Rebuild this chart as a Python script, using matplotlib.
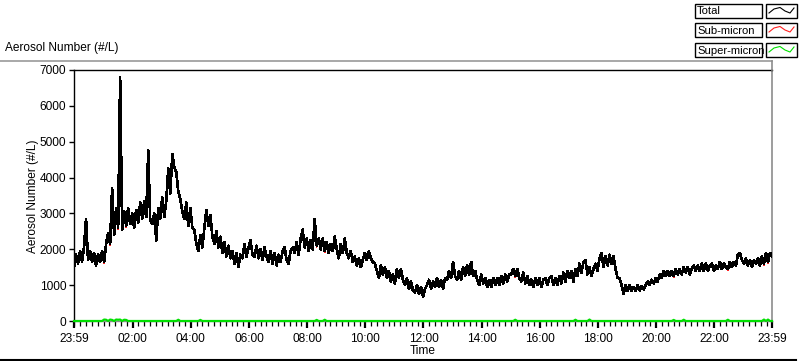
import numpy as np
import matplotlib
matplotlib.use("Agg")
import matplotlib.pyplot as plt
from matplotlib.lines import Line2D
from matplotlib.patches import Rectangle

# ---------------- data ----------------
# Total aerosol number (#/L), sampled evenly from 23:59 to 23:59 (next day)
total = [
    1500, 1850, 1600, 1950, 1650, 2050, 2850, 1700, 1950, 1650,
    1900, 1550, 1850, 1650, 1950, 1650, 2150, 2450, 2150, 3700,
    2400, 3150, 2600, 6800, 2550, 3050, 2650, 3150, 2700, 3000,
    2600, 3100, 2750, 3300, 2850, 3350, 2900, 4750, 2800, 2700,
    3000, 2250, 3150, 2850, 3450, 2900, 3350, 4250, 3550, 4650,
    4300, 4150, 3600, 3400, 3050, 2850, 3300, 2650, 3150, 2600,
    2550, 2150, 1950, 2400, 2050, 2600, 3100, 2650, 2950, 2350,
    2150, 2500, 2050, 2350, 1900, 2200, 1800, 2100, 1750, 1950,
    1600, 1900, 1500, 1850, 1750, 2150, 1800, 2050, 2250, 1850,
    1800, 2100, 1750, 2000, 1700, 2050, 1800, 1650, 1950, 1600,
    1900, 1550, 1850, 1650, 1950, 2050, 1700, 1600, 1950, 2050,
    1900, 2200, 1850, 2300, 2550, 2050, 2300, 1950, 2250, 2000,
    2850, 2100, 2300, 2000, 2300, 1950, 2200, 1900, 2150, 1950,
    2350, 2000, 1750, 2150, 1900, 2300, 1900, 1750, 1950, 1650,
    1800, 1550, 1750, 1500, 1700, 1900, 1700, 1950, 1750, 1650,
    1600, 1400, 1200, 1550, 1300, 1500, 1200, 1400, 1100, 1300,
    1050, 1450, 1200, 1450, 1150, 1000, 1200, 900, 1100, 850,
    800, 1000, 750, 950, 680, 900, 1000, 1150, 900, 1100,
    950, 1200, 950, 1150, 900, 1200, 1150, 1400, 1200, 1650,
    1250, 1150, 1400, 1150, 1500, 1250, 1550, 1300, 1650, 1250,
    1400, 1150, 1000, 1300, 1050, 1200, 950, 1150, 950, 1200,
    1000, 1200, 1000, 1250, 1050, 1300, 1100, 1300, 1300, 1450,
    1250, 1450, 1200, 1100, 1350, 1050, 1250, 1000, 1150, 950,
    1200, 1000, 1200, 950, 1150, 1200, 1000, 1200, 1250, 1000,
    1200, 1000, 1250, 1050, 1350, 1100, 1400, 1200, 1400, 1100,
    1450, 1250, 1600, 1350, 1650, 1700, 1300, 1500, 1250, 1450,
    1600, 1400, 1750, 1900, 1500, 1800, 1550, 1850, 1600, 1800,
    1450, 1200, 1200, 1000, 750, 1000, 850, 1000, 850, 950,
    850, 1000, 850, 980, 880, 1000, 1100, 1000, 1150, 1050,
    1200, 1100, 1300, 1200, 1400, 1250, 1400, 1250, 1400, 1250,
    1450, 1300, 1450, 1300, 1500, 1350, 1500, 1300, 1450, 1550,
    1400, 1550, 1400, 1600, 1400, 1600, 1400, 1550, 1600, 1400,
    1550, 1450, 1650, 1450, 1600, 1500, 1450, 1650, 1500, 1650,
    1550, 1850, 1900, 1700, 1600, 1750, 1550, 1700, 1500, 1700,
    1600, 1750, 1550, 1800, 1600, 1900, 1650, 1900, 1800,
]

# Super-micron: essentially zero with a few small blips (minutes after 23:59)
super_blip_minutes = [62, 66, 74, 80, 87, 91, 95, 103, 107, 215, 260, 499, 516,
                      910, 1036, 1062, 1238, 1258, 1347, 1424, 1430]
super_blip_values = [40, 35, 40, 30, 40, 35, 40, 35, 30, 35, 30, 30, 35,
                     35, 35, 40, 30, 35, 35, 40, 40]

y_ticks = [0, 1000, 2000, 3000, 4000, 5000, 6000, 7000]
x_tick_minutes = [0, 121, 241, 361, 481, 601, 721, 841, 961, 1081, 1201, 1321, 1440]
x_tick_labels = ["23:59", "02:00", "04:00", "06:00", "08:00", "10:00", "12:00",
                 "14:00", "16:00", "18:00", "20:00", "22:00", "23:59"]
series_names = ["Total", "Sub-micron", "Super-micron"]
series_colors = ["#000000", "#ff2020", "#00e000"]

# ---------------- build series ----------------
total = np.array(total, dtype=float)
minutes = np.linspace(0, 1440, len(total))
superm = np.zeros_like(total)
for m, v in zip(super_blip_minutes, super_blip_values):
    superm[int(np.argmin(np.abs(minutes - m)))] = v
subm = total - superm

# ---------------- figure ----------------
W, H = 800, 361
fig = plt.figure(figsize=(W / 100, H / 100), dpi=100)
plt.rcParams['font.family'] = ['Liberation Sans', 'DejaVu Sans']
FS = 8.6
FS_LEG = 8.1


def fx(px):
    return px / W


def fy(py):
    return 1 - py / H


L, R, T, B = 74, 772, 70, 321
ax = fig.add_axes([fx(L), fy(B), fx(R) - fx(L), fy(T) - fy(B)])

ax.plot(minutes, subm, color=series_colors[1], lw=0.4, zorder=2, antialiased=False)
ax.plot(minutes, total, color=series_colors[0], lw=1.2, zorder=3, antialiased=False)
ax.plot(minutes, superm, color=series_colors[2], lw=1.6, zorder=4, clip_on=False)

ax.set_xlim(0, 1440)
ax.set_ylim(0, 7000)
ax.set_yticks(y_ticks)
ax.set_yticklabels([str(v) for v in y_ticks], fontsize=FS)
ax.set_xticks(x_tick_minutes)
ax.set_xticklabels(x_tick_labels, fontsize=FS)
ax.set_xticks(np.arange(1, 1440, 12), minor=True)
ax.tick_params(axis="y", direction="out", length=3.5, width=1, pad=2, colors="black")
ax.tick_params(axis="x", which="major", direction="out", length=5, width=1.6, pad=4)
ax.tick_params(axis="x", which="minor", direction="out", length=3.5, width=0.9)

for s in ["left", "top"]:
    ax.spines[s].set_color("black")
    ax.spines[s].set_linewidth(1.0)
ax.spines["right"].set_color("#8c8c8c")
ax.spines["right"].set_linewidth(1.2)
ax.spines["bottom"].set_color("#8c8c8c")
ax.spines["bottom"].set_linewidth(1.0)

# labels
fig.text(fx(5), fy(48), "Aerosol Number (#/L)", fontsize=FS, ha="left", va="center")
fig.text(fx(33), fy(196), "Aerosol Number (#/L)", fontsize=FS, ha="center",
         va="center", rotation=90)
fig.text(fx(423), fy(351), "Time", fontsize=FS, ha="center", va="center")

# outer panel frame lines
fig.add_artist(Line2D([fx(0), fx(772)], [fy(61), fy(61)], color="#9a9a9a", lw=1.2))
fig.add_artist(Line2D([fx(772), fx(772)], [fy(61), fy(70)], color="#8c8c8c", lw=1.2))
fig.add_artist(Line2D([fx(0), fx(796)], [fy(360), fy(360)], color="black", lw=1.5))

# legend (LabVIEW-style plot legend)
row_tops = [4, 23, 43]
row_h = 14
for name, col, top in zip(series_names, series_colors, row_tops):
    fig.add_artist(Rectangle((fx(695), fy(top + row_h)), fx(762) - fx(695),
                             fy(top) - fy(top + row_h), fill=False,
                             edgecolor="black", lw=1.0))
    fig.text(fx(697), fy(top + row_h / 2 + 0.5), name, fontsize=FS_LEG, ha="left",
             va="center")
    fig.add_artist(Rectangle((fx(766), fy(top + row_h)), fx(797) - fx(766),
                             fy(top) - fy(top + row_h), fill=False,
                             edgecolor="black", lw=1.0))
    zx = [769, 774, 780, 785, 790, 794]
    zy = [top + 9, top + 5, top + 3.5, top + 7, top + 9, top + 4]
    fig.add_artist(Line2D([fx(v) for v in zx], [fy(v) for v in zy], color=col, lw=0.8))

fig.savefig("out.png", dpi=100)
